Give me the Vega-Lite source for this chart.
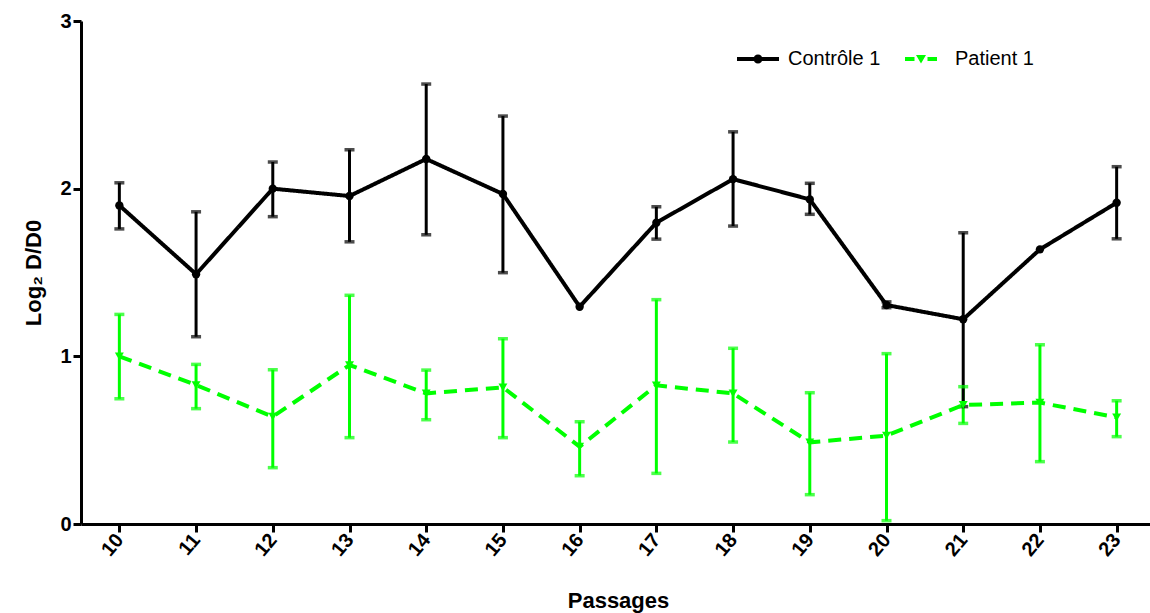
{
  "$schema": "https://vega.github.io/schema/vega-lite/v6.json",
  "autosize": {"type": "none"},
  "padding": {"left": 81, "top": 21, "right": 0, "bottom": 89},
  "width": 1074,
  "height": 503,
  "background": "white",
  "config": {
    "view": {"stroke": null},
    "font": "Liberation Sans",
    "axis": {
      "domainColor": "black",
      "domainWidth": 3,
      "tickColor": "black",
      "tickWidth": 3,
      "tickSize": 8,
      "labelColor": "black",
      "labelFont": "Liberation Sans",
      "labelFontWeight": "bold",
      "labelFontSize": 20,
      "titleColor": "black",
      "titleFont": "Liberation Sans",
      "titleFontWeight": "bold",
      "titleFontSize": 22,
      "grid": false
    },
    "legend": {
      "orient": "none",
      "direction": "horizontal",
      "padding": 0,
      "symbolSize": 400,
      "symbolStrokeWidth": 0,
      "symbolOpacity": 1,
      "labelFontSize": 20,
      "labelFont": "Liberation Sans",
      "labelColor": "black",
      "labelOffset": 20
    }
  },
  "data": {
    "values": [
      {"passage": 10, "series": "Patient 1", "mean": 1.0, "lo": 0.747, "hi": 1.25},
      {"passage": 11, "series": "Patient 1", "mean": 0.829, "lo": 0.688, "hi": 0.952},
      {"passage": 12, "series": "Patient 1", "mean": 0.64, "lo": 0.336, "hi": 0.92},
      {"passage": 13, "series": "Patient 1", "mean": 0.948, "lo": 0.515, "hi": 1.364},
      {"passage": 14, "series": "Patient 1", "mean": 0.779, "lo": 0.622, "hi": 0.918},
      {"passage": 15, "series": "Patient 1", "mean": 0.815, "lo": 0.515, "hi": 1.105},
      {"passage": 16, "series": "Patient 1", "mean": 0.461, "lo": 0.288, "hi": 0.61},
      {"passage": 17, "series": "Patient 1", "mean": 0.827, "lo": 0.302, "hi": 1.338},
      {"passage": 18, "series": "Patient 1", "mean": 0.779, "lo": 0.489, "hi": 1.048},
      {"passage": 19, "series": "Patient 1", "mean": 0.487, "lo": 0.175, "hi": 0.783},
      {"passage": 20, "series": "Patient 1", "mean": 0.527, "lo": 0.02, "hi": 1.016},
      {"passage": 21, "series": "Patient 1", "mean": 0.71, "lo": 0.6, "hi": 0.819},
      {"passage": 22, "series": "Patient 1", "mean": 0.724, "lo": 0.372, "hi": 1.069},
      {"passage": 23, "series": "Patient 1", "mean": 0.636, "lo": 0.521, "hi": 0.735},
      {"passage": 10, "series": "Contrôle 1", "mean": 1.9, "lo": 1.76, "hi": 2.035},
      {"passage": 11, "series": "Contrôle 1", "mean": 1.49, "lo": 1.117, "hi": 1.862},
      {"passage": 12, "series": "Contrôle 1", "mean": 2.0, "lo": 1.833, "hi": 2.159},
      {"passage": 13, "series": "Contrôle 1", "mean": 1.956, "lo": 1.683, "hi": 2.232},
      {"passage": 14, "series": "Contrôle 1", "mean": 2.177, "lo": 1.725, "hi": 2.624},
      {"passage": 15, "series": "Contrôle 1", "mean": 1.968, "lo": 1.499, "hi": 2.433},
      {"passage": 16, "series": "Contrôle 1", "mean": 1.296, "lo": null, "hi": null},
      {"passage": 17, "series": "Contrôle 1", "mean": 1.797, "lo": 1.699, "hi": 1.892},
      {"passage": 18, "series": "Contrôle 1", "mean": 2.057, "lo": 1.777, "hi": 2.339},
      {"passage": 19, "series": "Contrôle 1", "mean": 1.936, "lo": 1.847, "hi": 2.032},
      {"passage": 20, "series": "Contrôle 1", "mean": 1.306, "lo": 1.29, "hi": 1.325},
      {"passage": 21, "series": "Contrôle 1", "mean": 1.221, "lo": 0.7, "hi": 1.737},
      {"passage": 22, "series": "Contrôle 1", "mean": 1.638, "lo": null, "hi": null},
      {"passage": 23, "series": "Contrôle 1", "mean": 1.916, "lo": 1.701, "hi": 2.131}
    ]
  },
  "encoding": {
    "x": {
      "field": "passage",
      "type": "quantitative",
      "scale": {"domain": [9.5, 23.5], "nice": false, "zero": false},
      "axis": {
        "title": "Passages",
        "values": [10, 11, 12, 13, 14, 15, 16, 17, 18, 19, 20, 21, 22, 23],
        "labelAngle": -50,
        "labelPadding": 4,
        "titlePadding": 31
      }
    }
  },
  "resolve": {
    "scale": {"fill": "independent"},
    "legend": {"fill": "independent"}
  },
  "layer": [
    {
      "mark": {"type": "rule", "strokeWidth": 3},
      "encoding": {
        "y": {
          "field": "lo",
          "type": "quantitative",
          "scale": {"domain": [0, 3], "nice": false},
          "axis": {
            "title": "Log₂ D/D0",
            "values": [0, 1, 2, 3],
            "format": "d",
            "labelPadding": 2,
            "titlePadding": 14
          }
        },
        "y2": {"field": "hi"},
        "color": {
          "field": "series",
          "type": "nominal",
          "scale": {"domain": ["Contrôle 1", "Patient 1"], "range": ["#000000", "#00ff00"]},
          "legend": null
        }
      }
    },
    {
      "mark": {"type": "tick", "orient": "horizontal", "size": 10, "thickness": 3.5},
      "encoding": {
        "y": {"field": "lo", "type": "quantitative"},
        "color": {"field": "series", "type": "nominal", "legend": null}
      }
    },
    {
      "mark": {"type": "tick", "orient": "horizontal", "size": 10, "thickness": 3.5},
      "encoding": {
        "y": {"field": "hi", "type": "quantitative"},
        "color": {"field": "series", "type": "nominal", "legend": null}
      }
    },
    {
      "mark": {"type": "line", "strokeWidth": 4},
      "encoding": {
        "y": {"field": "mean", "type": "quantitative"},
        "color": {"field": "series", "type": "nominal", "legend": null},
        "strokeDash": {
          "field": "series",
          "type": "nominal",
          "scale": {"domain": ["Contrôle 1", "Patient 1"], "range": [[1, 0], [13, 8]]},
          "legend": null
        }
      }
    },
    {
      "transform": [{"filter": "datum.series === 'Patient 1'"}],
      "mark": {"type": "point", "filled": true, "opacity": 1, "size": 80, "shape": "triangle-down"},
      "encoding": {
        "y": {"field": "mean", "type": "quantitative"},
        "fill": {
          "field": "series",
          "type": "nominal",
          "scale": {"domain": ["Patient 1"], "range": ["#00ff00"]},
          "legend": {
            "title": null,
            "legendX": 830,
            "legendY": 28,
            "labelOffset": 24,
            "symbolType": "M-1.6,-0.2H-0.65V0.2H-1.6Z M0.65,-0.2H1.6V0.2H0.65Z M-0.5,-0.4L0.5,-0.4L0,0.45Z"
          }
        }
      }
    },
    {
      "transform": [{"filter": "datum.series === 'Contrôle 1'"}],
      "mark": {"type": "point", "filled": true, "opacity": 1, "size": 70, "shape": "circle"},
      "encoding": {
        "y": {"field": "mean", "type": "quantitative"},
        "fill": {
          "field": "series",
          "type": "nominal",
          "scale": {"domain": ["Contrôle 1"], "range": ["#000000"]},
          "legend": {
            "title": null,
            "legendX": 667,
            "legendY": 28,
            "symbolType": "M-2.1,-0.2H2.1V0.2H-2.1Z M0.45,0A0.45,0.45,0,1,1,-0.45,0A0.45,0.45,0,1,1,0.45,0Z"
          }
        }
      }
    }
  ]
}
